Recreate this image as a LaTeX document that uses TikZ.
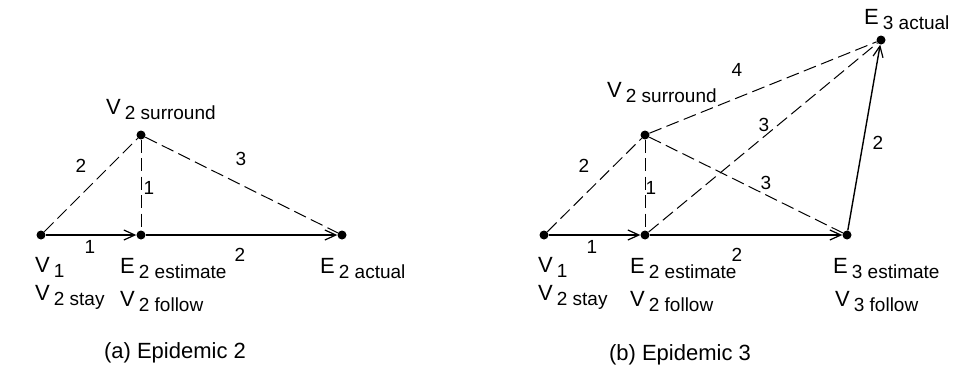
\documentclass[tikz,border=0pt]{standalone}
\usepackage{fontspec}
\setmainfont{Liberation Sans}
\usetikzlibrary{arrows.meta}
\newcommand{\lbl}[2]{#1\hspace{4pt}\raisebox{-5.5pt}{\fontsize{19}{22}\selectfont #2}}
\tikzset{
  dot/.style={circle,fill=black,inner sep=0pt,minimum size=9pt},
  lab/.style={anchor=base west,inner sep=0pt,font=\fontsize{22}{25}\selectfont},
  num/.style={inner sep=0pt,font=\fontsize{19}{22}\selectfont},
  captext/.style={inner sep=0pt,font=\fontsize{22}{25}\selectfont},
  solidarrow/.style={line width=1.4pt,-{Straight Barb[length=11pt,width=10pt,line width=1.2pt]}},
  dashline/.style={line width=1pt,dash pattern=on 13pt off 5.5pt},
}
\begin{document}
\begin{tikzpicture}[x=1pt,y=-1pt]
\useasboundingbox (0,0) rectangle (964,388);
% ---------- (a) ----------
\node[dot] (a1) at (41,235) {};
\node[dot] (a2) at (141,235) {};
\node[dot] (a3) at (141,135) {};
\node[dot] (a4) at (342,235) {};
\draw[dashline] (a1) -- (a3);
\draw[dashline] (a3) -- (a2);
\draw[dashline] (a3) -- (a4);
\draw[solidarrow] (a1) -- (a2);
\draw[solidarrow] (a2) -- (a4);
\node[num] (na1) at (81,166) {2};
\node[num] (na2) at (149,188) {1};
\node[num] (na3) at (241,159) {3};
\node[num] (na4) at (90,247) {1};
\node[num] (na5) at (240,255) {2};
\node[lab] (la1) at (106,114) {\lbl{V}{2 surround}};
\node[lab] (la2) at (35,272) {\lbl{V}{1}};
\node[lab] (la3) at (35,300) {\lbl{V}{2 stay}};
\node[lab] (la4) at (120,273) {\lbl{E}{2 estimate}};
\node[lab] (la5) at (120,306) {\lbl{V}{2 follow}};
\node[lab] (la6) at (320,273) {\lbl{E}{2 actual}};
\node[captext] (ca) at (175,353) {(a) Epidemic 2};
% ---------- (b) ----------
\node[dot] (b1) at (544,235) {};
\node[dot] (b2) at (645,235) {};
\node[dot] (b3) at (645,135) {};
\node[dot] (b4) at (847,235) {};
\node[dot] (b5) at (881,40) {};
\draw[dashline] (b1) -- (b3);
\draw[dashline] (b3) -- (b2);
\draw[dashline] (b3) -- (b4);
\draw[dashline] (b3) -- (b5);
\draw[dashline] (b2) -- (b5);
\draw[solidarrow] (b1) -- (b2);
\draw[solidarrow] (b2) -- (b4);
\draw[solidarrow] (b4) -- (b5);
\node[num] (nb1) at (737,70) {4};
\node[num] (nb2) at (764,125) {3};
\node[num] (nb3) at (878,143) {2};
\node[num] (nb4) at (584,166) {2};
\node[num] (nb5) at (651,188) {1};
\node[num] (nb6) at (766,183) {3};
\node[num] (nb7) at (592,247) {1};
\node[num] (nb8) at (737,255) {2};
\node[lab] (lb1) at (607,97) {\lbl{V}{2 surround}};
\node[lab] (lb2) at (538,272) {\lbl{V}{1}};
\node[lab] (lb3) at (538,300) {\lbl{V}{2 stay}};
\node[lab] (lb4) at (630,273) {\lbl{E}{2 estimate}};
\node[lab] (lb5) at (630,306) {\lbl{V}{2 follow}};
\node[lab] (lb6) at (833,273) {\lbl{E}{3 estimate}};
\node[lab] (lb7) at (835,306) {\lbl{V}{3 follow}};
\node[lab] (lb8) at (864,24) {\lbl{E}{3 actual}};
\node[captext] (cb) at (680,355) {(b) Epidemic 3};
\end{tikzpicture}
\end{document}
